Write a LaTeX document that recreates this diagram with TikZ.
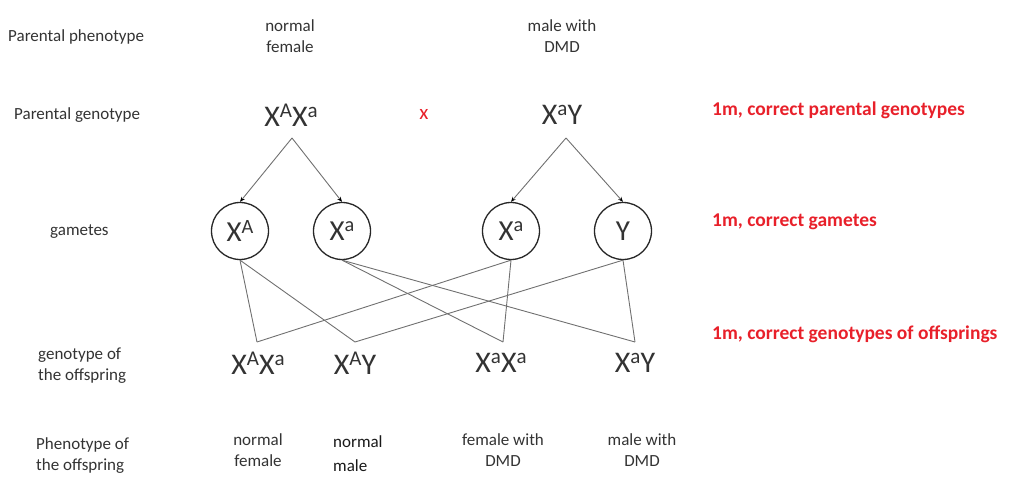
\documentclass[tikz,border=0pt]{standalone}
\usepackage{fontspec}
\setmainfont{Carlito}
\usetikzlibrary{arrows.meta}
\definecolor{txt}{HTML}{333333}
\definecolor{lin}{HTML}{707070}
\definecolor{mark}{HTML}{E8202A}
\newcommand\sus[1]{\raisebox{0.3em}{\scalebox{0.7}{#1}}}
\begin{document}
\begin{tikzpicture}[x=1pt,y=-1pt,
  lab/.style={text=txt,font=\fontsize{17}{21}\selectfont,align=left,anchor=west,inner sep=0},
  ctr/.style={text=txt,font=\fontsize{17}{21}\selectfont,align=center,inner sep=0},
  geno/.style={text=txt,font=\fontsize{30}{32}\selectfont,inner sep=0},
  gam/.style={circle,draw=black!85,line width=1.3pt,minimum size=57pt,inner sep=0,text=txt,font=\fontsize{29}{30}\selectfont},
  note/.style={text=mark,font=\bfseries\fontsize{19.5}{22}\selectfont,anchor=west,inner sep=0},
  arr/.style={draw=lin,line width=0.9pt,-{Stealth[length=5pt,width=4pt,black]}},
  cross/.style={draw=lin,line width=0.9pt}]
\useasboundingbox (0,0) rectangle (1010,484);
% row labels
\node[lab] (l1) at (8,37) {Parental phenotype};
\node[lab] (l2) at (14,115) {Parental genotype};
\node[lab] (l3) at (50,232) {gametes};
\node[lab] (l4) at (38,366) {genotype of\\the offspring};
\node[lab] (l5) at (36,456) {Phenotype of\\the offspring};
% parental phenotype
\node[ctr] (pf) at (290,36) {normal\\female};
\node[ctr] (pm) at (562,36) {male with\\DMD};
% parental genotype
\node[geno] (gf) at (291,115) {X\sus{A}X\sus{a}};
\node[text=mark,font=\fontsize{21}{22}\selectfont,inner sep=0] (cx) at (424,114) {x};
\node[geno] (gm) at (562,115) {X\sus{a}Y};
\coordinate (af) at (292,138);
\coordinate (am) at (566,138);
% gametes
\node[gam] (g1) at (240,231) {X\sus{A}};
\node[gam] (g2) at (342,231) {X\sus{a}};
\node[gam] (g3) at (511,231) {X\sus{a}};
\node[gam] (g4) at (623,231) {Y};
\draw[arr] (af) -- (g1.north);
\draw[arr] (af) -- (g2.north);
\draw[arr] (am) -- (g3.north);
\draw[arr] (am) -- (g4.north);
% offspring genotypes
\node[geno] (o1) at (258,363) {X\sus{A}X\sus{a}};
\node[geno] (o2) at (355,363) {X\sus{A}Y};
\node[geno] (o3) at (501,363) {X\sus{a}X\sus{a}};
\node[geno] (o4) at (635,363) {X\sus{a}Y};
\coordinate (c1) at (257,342);
\coordinate (c2) at (355,342);
\coordinate (c3) at (503,342);
\coordinate (c4) at (635,342);
\draw[cross] (g1.south) -- (c1);
\draw[cross] (g1.south) -- (c2);
\draw[cross] (g2.south) -- (c3);
\draw[cross] (g2.south) -- (c4);
\draw[cross] (g3.south) -- (c1);
\draw[cross] (g3.south) -- (c3);
\draw[cross] (g4.south) -- (c2);
\draw[cross] (g4.south) -- (c4);
% offspring phenotypes
\node[ctr] (f1) at (258,450) {normal\\female};
\node[text=black!90,font=\fontsize{17}{24}\selectfont,align=left,anchor=west,inner sep=0] (f2) at (333,454) {normal\\male};
\node[ctr] (f3) at (503,450) {female with\\DMD};
\node[ctr] (f4) at (642,450) {male with\\DMD};
% marks
\node[note] (n1) at (712,110) {1m, correct parental genotypes};
\node[note] (n2) at (712,222) {1m, correct gametes};
\node[note] (n3) at (712,334) {1m, correct genotypes of offsprings};
\end{tikzpicture}
\end{document}
